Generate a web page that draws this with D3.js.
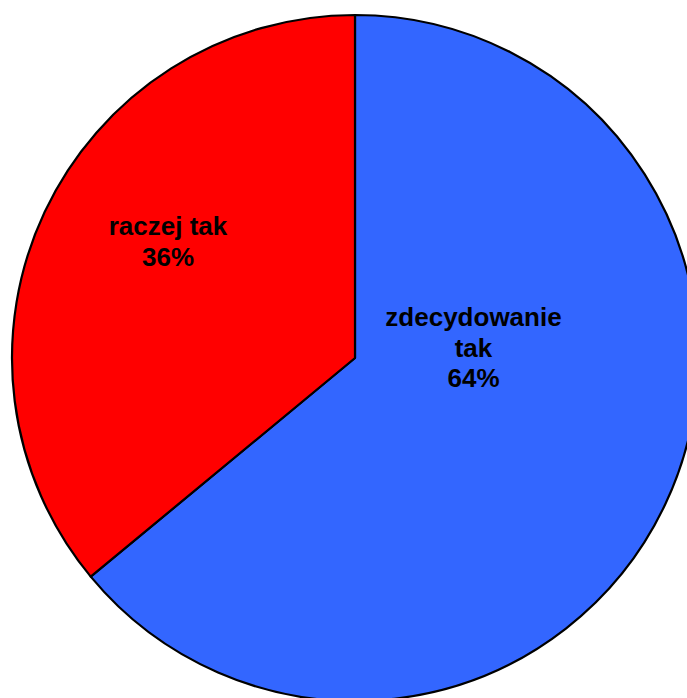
<!DOCTYPE html>
<html><head><meta charset="utf-8">
<script src="https://cdn.jsdelivr.net/npm/d3@7"></script>
<style>html,body{margin:0;padding:0;background:#fff;overflow:hidden}</style>
</head><body>
<svg id="c" width="687" height="698"></svg>
<script>
const categories = ["zdecydowanie tak", "raczej tak"];
const values = [64, 36];
const labelLines = [["zdecydowanie", "tak", "64%"], ["raczej tak", "36%"]];
const colors = ["#3366FF", "#FF0000"];

const svg = d3.select("#c");
const cx = 355, cy = 358, r = 343;
const g = svg.append("g").attr("transform", `translate(${cx},${cy})`);
const pie = d3.pie().sort(null).value(d => d)(values);
const arc = d3.arc().innerRadius(0).outerRadius(r);
g.selectAll("path").data(pie).enter().append("path")
  .attr("d", arc)
  .attr("fill", (d, i) => colors[i])
  .attr("stroke", "#000").attr("stroke-width", 2.2).attr("stroke-linejoin", "round");

const labelPos = [[118.5, -32], [-187, -123]];
const lh = 30.5;
pie.forEach((d, i) => {
  const lines = labelLines[i];
  const t = g.append("text")
    .attr("text-anchor", "middle")
    .attr("font-family", "Liberation Sans, Arial, sans-serif")
    .attr("font-weight", "bold")
    .attr("font-size", 26)
    .attr("fill", "#000");
  lines.forEach((s, j) => {
    t.append("tspan").attr("x", labelPos[i][0]).attr("y", labelPos[i][1] + j * lh).text(s);
  });
});
</script>
</body></html>
